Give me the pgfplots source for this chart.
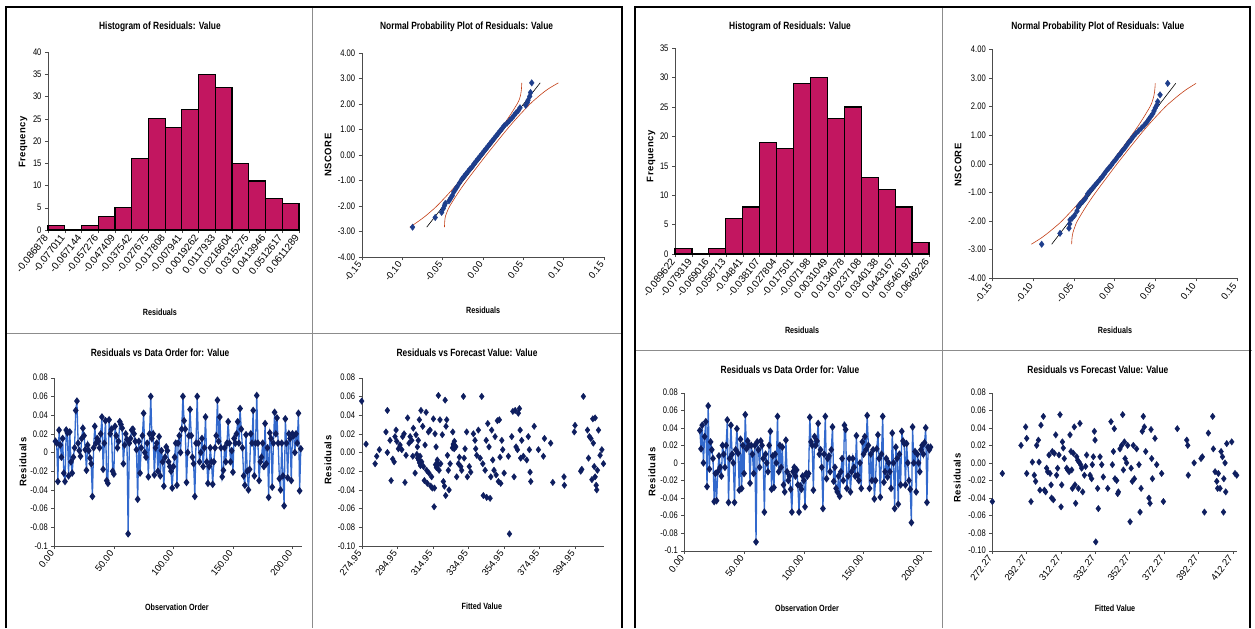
\documentclass[border=0pt]{standalone}
\usepackage{fontspec}
\setmainfont{Liberation Sans}[FakeStretch=0.8]
\newfontfamily\labfont{Liberation Sans}[LetterSpace=5]
\newfontfamily\widefont{Liberation Sans}
\usepackage{pgfplots}
\pgfplotsset{compat=1.18}
\usepackage{pgfplotstable}

\definecolor{barfill}{RGB}{194,22,96}
\definecolor{navy}{RGB}{14,30,95}
\definecolor{lineblue}{RGB}{50,105,205}
\definecolor{bandred}{RGB}{196,64,24}
\definecolor{npblue}{RGB}{30,62,140}

\pgfplotsset{
  every axis title shift=0pt,
  panel/.style={scale only axis, anchor=south west, axis lines*=left,
    tick align=outside, major tick length=3pt,
    axis line style={black!70}, every tick/.style={black!70, thin},
    y tick label style={font=\fontsize{9.5}{10}\selectfont},
    x tick label style={font=\widefont\fontsize{9.5}{10}\selectfont, rotate=52, anchor=east},
    /pgf/number format/assume math mode=true,
    title style={font=\bfseries\fontsize{10.5}{12}\selectfont, anchor=center, yshift=0pt},
    xlabel style={font=\bfseries\fontsize{9}{10}\selectfont, anchor=center},
    ylabel style={font=\labfont\bfseries\fontsize{9.5}{10}\selectfont, anchor=center},
    enlargelimits=false, clip=false},
  zf/.style={/pgf/number format/.cd, fixed, fixed zerofill, precision=2},
}

% residuals in observation order, left model (obs 1..207)
\pgfplotstableread[row sep=\\]{
r\\
0.012\\ 0.010\\ -0.031\\ 0.024\\ 0.008\\ -0.005\\ 0.015\\ -0.022\\ -0.031\\ 0.024\\
0.021\\ -0.025\\ 0.022\\ -0.010\\ -0.022\\ -0.005\\ 0.005\\ 0.045\\ 0.055\\ 0.010\\
0.002\\ -0.004\\ 0.015\\ 0.026\\ 0.018\\ 0.003\\ -0.019\\ 0.008\\ 0.002\\ -0.006\\
-0.012\\ -0.047\\ 0.005\\ 0.028\\ 0.010\\ 0.015\\ 0.012\\ 0.005\\ 0.020\\ 0.038\\
-0.018\\ 0.010\\ 0.034\\ -0.030\\ -0.033\\ 0.035\\ 0.020\\ 0.025\\ -0.020\\ -0.023\\
0.028\\ 0.018\\ 0.005\\ 0.012\\ 0.033\\ 0.030\\ 0.026\\ -0.012\\ 0.008\\ 0.020\\
0.014\\ -0.087\\ 0.010\\ 0.015\\ 0.024\\ 0.025\\ 0.020\\ 0.012\\ 0.003\\ -0.050\\
0.012\\ -0.022\\ 0.005\\ 0.018\\ 0.042\\ 0.000\\ -0.005\\ 0.010\\ -0.026\\ 0.020\\
0.060\\ 0.015\\ 0.020\\ -0.024\\ 0.005\\ 0.010\\ -0.020\\ 0.017\\ -0.025\\ 0.002\\
-0.010\\ -0.036\\ -0.005\\ 0.006\\ 0.002\\ -0.010\\ -0.015\\ -0.020\\ -0.038\\ -0.015\\
-0.005\\ 0.010\\ -0.035\\ 0.010\\ 0.018\\ 0.000\\ 0.025\\ 0.060\\ 0.034\\ 0.025\\
-0.032\\ 0.000\\ 0.018\\ 0.046\\ 0.018\\ -0.005\\ -0.012\\ -0.047\\ 0.010\\ 0.060\\
0.010\\ -0.010\\ 0.000\\ 0.015\\ -0.015\\ 0.005\\ 0.038\\ -0.010\\ -0.033\\ -0.015\\
0.005\\ -0.010\\ -0.034\\ -0.010\\ 0.005\\ 0.018\\ 0.056\\ 0.012\\ 0.038\\ 0.005\\
-0.026\\ -0.019\\ 0.005\\ -0.010\\ 0.010\\ 0.033\\ 0.010\\ -0.010\\ 0.002\\ -0.021\\
0.015\\ 0.010\\ 0.020\\ 0.033\\ 0.010\\ 0.047\\ 0.025\\ 0.005\\ -0.025\\ -0.035\\
0.019\\ -0.020\\ -0.040\\ -0.018\\ 0.020\\ 0.010\\ 0.045\\ -0.025\\ 0.010\\ 0.061\\
0.010\\ -0.030\\ -0.010\\ -0.005\\ 0.010\\ -0.015\\ 0.031\\ -0.012\\ 0.005\\ -0.048\\
0.021\\ 0.015\\ -0.037\\ 0.010\\ 0.043\\ 0.020\\ 0.037\\ 0.010\\ -0.028\\ -0.040\\
0.010\\ -0.025\\ -0.057\\ 0.036\\ 0.010\\ -0.027\\ 0.020\\ 0.015\\ -0.030\\ 0.020\\
0.018\\ 0.000\\ 0.020\\ 0.010\\ 0.042\\ -0.041\\ 0.004\\
}\orderA

% residuals in observation order, right model (obs 13..206)
\pgfplotstableread[row sep=\\]{
r\\
0.037\\ 0.016\\ 0.043\\ 0.000\\ 0.030\\ 0.047\\ -0.027\\
0.065\\ -0.007\\ 0.024\\ 0.015\\ 0.005\\ -0.044\\ -0.012\\ -0.043\\ -0.010\\ 0.008\\
-0.005\\ -0.015\\ 0.020\\ 0.010\\ -0.005\\ 0.020\\ 0.049\\ -0.045\\ 0.005\\ 0.043\\
0.010\\ 0.000\\ -0.045\\ 0.015\\ 0.039\\ 0.011\\ -0.031\\ 0.027\\ -0.029\\ 0.020\\
-0.012\\ 0.055\\ 0.016\\ 0.025\\ 0.020\\ -0.023\\ 0.020\\ 0.010\\ -0.012\\ 0.020\\
-0.090\\ 0.024\\ 0.015\\ -0.005\\ 0.025\\ 0.020\\ 0.005\\ -0.056\\ 0.010\\ 0.000\\
-0.010\\ 0.020\\ 0.036\\ -0.030\\ 0.008\\ -0.028\\ 0.010\\ 0.000\\ 0.053\\ -0.010\\
0.020\\ -0.005\\ 0.018\\ -0.025\\ -0.033\\ 0.026\\ -0.010\\ -0.020\\ -0.015\\ -0.030\\
-0.056\\ -0.010\\ -0.005\\ -0.015\\ -0.008\\ -0.025\\ -0.056\\ -0.026\\ -0.030\\ -0.015\\
-0.020\\ -0.050\\ -0.012\\ -0.015\\ -0.012\\ 0.052\\ 0.024\\ 0.020\\ -0.031\\ 0.030\\
0.020\\ 0.025\\ 0.045\\ 0.010\\ 0.015\\ -0.005\\ -0.052\\ 0.010\\ 0.053\\ -0.018\\
0.005\\ 0.008\\ -0.010\\ 0.015\\ 0.041\\ -0.021\\ -0.005\\ -0.029\\ -0.033\\ -0.015\\
-0.038\\ -0.010\\ 0.005\\ -0.020\\ 0.043\\ 0.038\\ -0.029\\ -0.015\\ 0.005\\ -0.033\\
-0.010\\ 0.005\\ -0.005\\ -0.015\\ 0.031\\ -0.014\\ -0.020\\ 0.000\\ -0.029\\ 0.024\\
0.010\\ 0.030\\ 0.015\\ 0.054\\ 0.020\\ -0.029\\ 0.010\\ -0.020\\ 0.015\\ -0.041\\
-0.020\\ 0.016\\ 0.032\\ 0.005\\ -0.039\\ 0.010\\ 0.053\\ -0.022\\ -0.010\\ 0.005\\
-0.016\\ 0.000\\ -0.010\\ -0.029\\ 0.034\\ 0.000\\ -0.052\\ 0.018\\ 0.005\\ -0.047\\
0.010\\ -0.025\\ 0.036\\ 0.025\\ 0.022\\ -0.025\\ 0.022\\ 0.000\\ -0.020\\ -0.030\\
-0.068\\ 0.041\\ 0.000\\ 0.013\\ -0.033\\ 0.010\\ 0.000\\ -0.010\\ 0.015\\ 0.020\\
0.010\\ 0.023\\ 0.040\\ -0.045\\ 0.018\\ 0.015\\ 0.018\\
}\orderB

% residuals vs fitted value, left model
\pgfplotstableread[row sep=\\]{
f r\\
274.95 0.055\\ 277.4 0.009\\ 282.5 -0.012\\ 283.4 -0.004\\ 284.9 0.003\\ 288.6 0.022\\
289.4 0.045\\ 289.4 0.000\\ 290.9 0.013\\ 291.5 -0.030\\ 292.4 -0.007\\ 293.2 -0.010\\
293.7 0.017\\ 294.3 0.024\\ 294.7 0.012\\ 295.6 0.004\\ 296.5 0.008\\ 297.5 0.003\\
298.0 0.017\\ 298.8 0.020\\ 299.3 -0.032\\ 299.9 -0.003\\ 300.8 0.037\\ 301.6 0.010\\
302.2 0.017\\ 303.1 0.013\\ 303.7 -0.004\\ 304.0 0.026\\ 305.0 -0.022\\ 305.5 0.019\\
306.0 -0.002\\ 306.3 0.006\\ 306.5 -0.006\\ 306.8 0.013\\ 307.0 -0.008\\ 307.4 0.035\\
307.5 -0.011\\ 307.8 -0.004\\ 308.0 -0.014\\ 308.3 0.045\\ 308.7 -0.010\\ 309.3 0.028\\
309.7 -0.015\\ 310.2 -0.030\\ 310.6 0.008\\ 311.2 0.043\\ 311.5 -0.019\\ 311.9 -0.033\\
312.5 0.022\\ 312.8 -0.022\\ 313.4 0.024\\ 313.8 -0.036\\ 314.3 -0.026\\ 314.7 -0.038\\
315.3 0.036\\ 315.7 -0.058\\ 315.9 -0.038\\ 316.2 0.020\\ 316.5 -0.013\\ 316.8 0.006\\
317.0 -0.016\\ 317.2 -0.015\\ 317.5 -0.008\\ 317.5 -0.014\\ 318.0 -0.012\\ 318.1 0.061\\
318.5 -0.019\\ 319.0 0.035\\ 319.4 -0.012\\ 320.3 0.019\\ 320.9 -0.031\\ 321.5 -0.036\\
321.9 0.056\\ 322.2 -0.046\\ 322.4 0.028\\ 322.8 0.035\\ 323.2 -0.003\\ 323.7 -0.019\\
324.1 -0.040\\ 324.7 -0.012\\ 326.0 0.005\\ 326.2 0.022\\ 326.5 0.009\\ 326.6 0.008\\
327.0 0.004\\ 327.1 0.012\\ 327.5 0.007\\ 327.9 0.006\\ 328.4 -0.026\\ 329.4 -0.012\\
329.9 -0.005\\ 330.7 -0.015\\ 331.2 -0.019\\ 332.2 0.060\\ 332.6 -0.006\\ 333.1 0.004\\
334.0 0.022\\ 334.4 -0.026\\ 335.5 -0.015\\ 336.3 -0.021\\ 337.8 0.020\\ 338.7 0.013\\
339.1 0.004\\ 339.7 -0.003\\ 340.6 0.024\\ 341.6 -0.006\\ 342.5 0.060\\ 343.1 -0.012\\
343.4 -0.046\\ 344.4 -0.019\\ 345.0 0.013\\ 345.3 -0.048\\ 345.9 0.031\\ 346.6 0.006\\
347.2 -0.049\\ 347.6 -0.026\\ 348.1 0.024\\ 348.7 -0.008\\ 349.4 -0.019\\ 350.0 0.017\\
350.6 -0.024\\ 351.3 0.034\\ 351.9 -0.031\\ 352.4 0.035\\ 352.8 -0.005\\ 353.2 -0.033\\
353.8 0.013\\ 354.3 0.003\\ 355.1 -0.022\\ 357.5 -0.004\\ 358.1 -0.087\\ 359.4 0.017\\
360.0 0.044\\ 360.7 -0.026\\ 361.3 0.045\\ 361.8 0.006\\ 362.6 0.003\\ 363.1 0.042\\
363.7 0.047\\ 364.1 0.024\\ 364.4 -0.006\\ 365.0 0.013\\ 365.9 -0.004\\ 367.8 -0.008\\
368.7 0.017\\ 369.3 0.003\\ 369.7 -0.021\\ 370.1 -0.031\\ 372.0 0.028\\ 374.4 0.003\\
377.2 -0.004\\ 377.8 0.015\\ 381.3 0.010\\ 382.5 -0.032\\ 388.8 -0.026\\ 389.0 -0.035\\
394.6 0.022\\ 395.0 0.029\\ 398.2 -0.020\\ 398.8 -0.018\\ 399.7 0.060\\ 402.0 0.024\\
402.6 -0.006\\ 403.1 0.017\\ 403.9 0.015\\ 404.5 -0.029\\ 405.0 0.036\\ 405.3 0.010\\
405.8 -0.015\\ 406.3 0.037\\ 406.3 -0.026\\ 406.9 -0.035\\ 407.2 -0.040\\ 407.6 -0.019\\
408.2 0.024\\ 409.1 -0.003\\ 410.1 0.003\\ 411.0 -0.012\\
}\scatA

% residuals vs fitted value, right model
\pgfplotstableread[row sep=\\]{
f r\\
272.3 -0.044\\ 278.1 -0.012\\ 289.0 0.020\\ 291.7 0.041\\ 292.3 0.028\\ 292.3 -0.012\\
294.8 -0.044\\ 295.6 0.001\\ 296.7 -0.014\\ 297.5 -0.021\\ 298.1 0.020\\ 299.1 0.026\\
299.5 0.001\\ 300.0 -0.031\\ 300.6 0.043\\ 302.0 0.053\\ 302.6 -0.031\\ 303.3 -0.033\\
303.9 -0.006\\ 304.5 -0.010\\ 305.3 0.009\\ 305.9 -0.012\\ 306.5 -0.025\\ 306.8 -0.040\\
307.2 0.013\\ 307.8 -0.042\\ 308.4 0.011\\ 309.2 0.032\\ 309.7 -0.014\\ 310.3 -0.006\\
311.1 0.009\\ 311.7 0.055\\ 312.3 -0.050\\ 312.7 -0.025\\ 313.1 0.024\\ 313.6 0.017\\
314.2 0.005\\ 315.6 -0.006\\ 316.2 -0.008\\ 317.0 -0.010\\ 317.5 0.032\\ 318.1 0.013\\
318.5 -0.008\\ 318.9 -0.029\\ 319.5 0.011\\ 320.0 0.041\\ 320.4 -0.025\\ 320.8 -0.046\\
321.4 0.007\\ 322.0 0.003\\ 322.4 -0.029\\ 322.8 0.001\\ 323.3 0.045\\ 323.7 -0.002\\
324.3 -0.006\\ 324.9 -0.033\\ 325.9 -0.014\\ 326.6 -0.004\\ 327.2 0.009\\ 329.2 -0.014\\
330.1 -0.018\\ 330.5 -0.002\\ 331.1 0.007\\ 331.7 0.036\\ 332.1 0.026\\ 332.5 -0.090\\
333.6 -0.029\\ 334.0 -0.052\\ 335.0 0.007\\ 336.0 -0.002\\ 336.9 -0.016\\ 339.5 -0.029\\
341.4 0.047\\ 342.2 -0.002\\ 342.8 0.013\\ 343.3 0.039\\ 343.7 -0.018\\ 344.7 -0.020\\
345.3 -0.035\\ 345.7 -0.033\\ 346.6 0.016\\ 347.6 0.020\\ 348.2 0.055\\ 348.6 -0.008\\
349.2 0.024\\ 349.6 0.005\\ 350.5 0.000\\ 351.1 0.020\\ 352.5 -0.067\\ 353.1 -0.006\\
353.8 -0.021\\ 354.4 0.020\\ 355.0 -0.018\\ 356.3 0.016\\ 357.7 -0.002\\ 358.3 -0.056\\
358.9 -0.029\\ 359.6 0.036\\ 360.2 0.053\\ 360.8 0.041\\ 361.6 0.013\\ 363.5 -0.040\\
364.1 -0.046\\ 364.7 0.038\\ 365.1 0.005\\ 365.5 -0.018\\ 367.0 0.028\\ 368.0 -0.002\\
370.9 -0.012\\ 371.9 -0.044\\ 380.0 0.039\\ 385.5 0.026\\ 386.1 0.020\\ 386.4 -0.014\\
389.8 0.000\\ 393.8 0.005\\ 394.6 0.007\\ 395.8 -0.056\\ 398.1 0.034\\ 400.6 0.053\\
401.0 0.016\\ 402.0 -0.010\\ 403.0 -0.021\\ 403.5 -0.029\\ 403.9 -0.012\\ 404.9 -0.029\\
405.5 0.013\\ 406.3 0.007\\ 406.9 -0.056\\ 407.1 -0.018\\ 407.8 0.000\\ 408.2 -0.033\\
408.8 0.022\\ 411.7 0.024\\ 413.6 -0.012\\ 414.6 -0.014\\
}\scatB

\begin{document}
\begin{tikzpicture}
\fill[white] (0pt,0pt) rectangle (1255pt,-628pt);

% ---------------- left model ----------------
\begin{axis}[panel, at={(48pt,-230pt)}, width=251pt, height=178pt,
  xmin=0, xmax=15, ymin=0, ymax=40, ytick={0,5,...,40},
  xtick={0,...,15},
  xticklabels={-0.086878,-0.077011,-0.067144,-0.057276,-0.047409,-0.037542,-0.027675,-0.017808,-0.007941,0.0019262,0.0117933,0.0216604,0.0315275,0.0413946,0.0512617,0.0611289},
  x tick label style={font=\widefont\fontsize{10}{10}\selectfont},
  title={Histogram of Residuals: Value}, title style={at={(axis description cs:0.446,1.14)}},
  xlabel={Residuals}, xlabel style={at={(axis description cs:0.446,-0.461)}},
  ylabel={Frequency}, ylabel style={at={(axis description cs:-0.0996,0.494)}}]
\addplot[ybar interval, fill=barfill, draw=black, line width=1.2pt] coordinates {
  (0,1) (1,0) (2,1) (3,3) (4,5) (5,16) (6,25) (7,23) (8,27) (9,35) (10,32) (11,15) (12,11) (13,7) (14,6) (15,6)};
\end{axis}

\begin{axis}[panel, at={(361.7pt,-257pt)}, width=242.3pt, height=204pt,
  xmin=-0.15, xmax=0.15, ymin=-4, ymax=4,
  xtick={-0.15,-0.1,-0.05,0,0.05,0.1,0.15}, ytick={-4,...,4},
  x tick label style={zf}, y tick label style={zf},
  title={Normal Probability Plot of Residuals: Value}, title style={at={(axis description cs:0.433,1.127)}},
  xlabel={Residuals}, xlabel style={at={(axis description cs:0.501,-0.26)}},
  ylabel={NSCORE}, ylabel style={at={(axis description cs:-0.139,0.5)}}]
\addplot[bandred, semithick, smooth] coordinates {
  (-0.0905,-2.83) (-0.0798,-2.6) (-0.0713,-2.4) (-0.0639,-2.2) (-0.0569,-2.0) (-0.0420,-1.5)
  (-0.0283,-1.0) (-0.0027,0) (0.0214,1.0) (0.0325,1.5) (0.0424,2.0) (0.0454,2.2) (0.0470,2.4) (0.0478,2.6) (0.0482,2.83)};
\addplot[bandred, semithick, smooth] coordinates {
  (-0.0475,-2.83) (-0.0472,-2.6) (-0.0463,-2.4) (-0.0439,-2.2) (-0.0409,-2.0) (-0.0310,-1.5)
  (-0.0199,-1.0) (0.0043,0) (0.0298,1.0) (0.0435,1.5) (0.0584,2.0) (0.0654,2.2) (0.0728,2.4) (0.0813,2.6) (0.0935,2.83)};
\addplot[only marks, mark=diamond*, mark size=3.2pt, color=npblue] coordinates {
  (-0.0870,-2.83) (-0.0590,-2.45) (-0.0510,-2.25) (-0.0490,-2.10) (-0.0475,-1.98) (-0.0465,-1.90)
  (-0.0420,-1.80) (-0.0400,-1.70) (-0.0380,-1.60) (-0.0360,-1.45) (-0.0340,-1.35) (-0.0320,-1.25)
  (-0.0290,-1.10) (-0.0260,-0.95) (-0.0235,-0.85) (-0.0210,-0.75) (-0.0185,-0.65) (-0.0160,-0.55)
  (-0.0130,-0.45) (-0.0110,-0.35) (-0.0085,-0.25) (-0.0060,-0.15) (-0.0035,-0.05) (-0.0010,0.05)
  (0.0015,0.15) (0.0040,0.25) (0.0065,0.35) (0.0090,0.45) (0.0115,0.55) (0.0140,0.65)
  (0.0165,0.75) (0.0190,0.85) (0.0215,0.95) (0.0240,1.05) (0.0265,1.15) (0.0300,1.25)
  (0.0330,1.35) (0.0360,1.45) (0.0385,1.55) (0.0410,1.65) (0.0440,1.75) (0.0460,1.85)
  (0.0530,1.95) (0.0550,2.05) (0.0560,2.15) (0.0580,2.30) (0.0590,2.45) (0.0605,2.83)};
\addplot[black, semithick] coordinates {(-0.0695,-2.83) (0.0710,2.83)};
\end{axis}

\begin{axis}[panel, at={(54.3pt,-546pt)}, width=247.7pt, height=168.3pt,
  xmin=0, xmax=208, ymin=-0.1, ymax=0.08,
  xtick={0,50,...,200}, ytick={-0.1,-0.08,-0.06,-0.04,-0.02,0,0.02,0.04,0.06,0.08},
  x tick label style={zf},
  y tick label style={/pgf/number format/.cd, fixed, precision=2},
  title={Residuals vs Data Order for: Value}, title style={at={(axis description cs:0.427,1.147)}},
  xlabel={Observation Order}, xlabel style={at={(axis description cs:0.495,-0.362)}},
  ylabel={Residuals}, ylabel style={at={(axis description cs:-0.126,0.499)}}]
\addplot[lineblue, line width=1.3pt, mark=diamond*, mark size=2.8pt, mark options={navy}]
  table[x expr=\coordindex+1, y=r] {\orderA};
\end{axis}

\begin{axis}[panel, at={(361.7pt,-546pt)}, width=242.3pt, height=168.3pt,
  xmin=274.95, xmax=411.3, ymin=-0.1, ymax=0.08,
  xtick={274.95,294.95,314.95,334.95,354.95,374.95,394.95},
  ytick={-0.1,-0.08,-0.06,-0.04,-0.02,0,0.02,0.04,0.06,0.08},
  x tick label style={zf}, y tick label style={zf},
  title={Residuals vs Forecast Value: Value}, title style={at={(axis description cs:0.435,1.147)}},
  xlabel={Fitted Value}, xlabel style={at={(axis description cs:0.496,-0.357)}},
  ylabel={Residuals}, ylabel style={at={(axis description cs:-0.139,0.511)}}]
\addplot[only marks, mark=diamond*, mark size=3.2pt, color=navy] table[x=f, y=r] {\scatA};
\end{axis}

% ---------------- right model ----------------
\begin{axis}[panel, at={(675pt,-254pt)}, width=254pt, height=205.7pt,
  xmin=0, xmax=15, ymin=0, ymax=35, ytick={0,5,...,35},
  xtick={0,...,15},
  xticklabels={-0.089622,-0.079319,-0.069016,-0.058713,-0.04841,-0.038107,-0.027804,-0.017501,-0.007198,0.0031049,0.0134078,0.0237108,0.0340138,0.0443167,0.0546197,0.0649226},
  x tick label style={font=\widefont\fontsize{10}{10}\selectfont},
  title={Histogram of Residuals: Value}, title style={at={(axis description cs:0.453,1.104)}},
  xlabel={Residuals}, xlabel style={at={(axis description cs:0.5,-0.369)}},
  ylabel={Frequency}, ylabel style={at={(axis description cs:-0.0945,0.476)}}]
\addplot[ybar interval, fill=barfill, draw=black, line width=1.2pt] coordinates {
  (0,1) (1,0) (2,1) (3,6) (4,8) (5,19) (6,18) (7,29) (8,30) (9,23) (10,25) (11,13) (12,11) (13,8) (14,2) (15,2)};
\end{axis}

\begin{axis}[panel, at={(992.3pt,-278.3pt)}, width=244.4pt, height=229pt,
  xmin=-0.15, xmax=0.15, ymin=-4, ymax=4,
  xtick={-0.15,-0.1,-0.05,0,0.05,0.1,0.15}, ytick={-4,...,4},
  x tick label style={zf}, y tick label style={zf},
  title={Normal Probability Plot of Residuals: Value}, title style={at={(axis description cs:0.432,1.097)}},
  xlabel={Residuals}, xlabel style={at={(axis description cs:0.502,-0.226)}},
  ylabel={NSCORE}, ylabel style={at={(axis description cs:-0.14,0.495)}}]
\addplot[bandred, semithick, smooth] coordinates {
  (-0.1021,-2.81) (-0.0904,-2.6) (-0.0810,-2.4) (-0.0726,-2.2) (-0.0647,-2.0) (-0.0481,-1.5)
  (-0.0331,-1.0) (-0.0052,0) (0.0211,1.0) (0.0331,1.5) (0.0437,2.0) (0.0466,2.2) (0.0485,2.4) (0.0495,2.6) (0.0500,2.81)};
\addplot[bandred, semithick, smooth] coordinates {
  (-0.0526,-2.81) (-0.0522,-2.6) (-0.0510,-2.4) (-0.0486,-2.2) (-0.0457,-2.0) (-0.0351,-1.5)
  (-0.0231,-1.0) (0.0032,0) (0.0311,1.0) (0.0461,1.5) (0.0627,2.0) (0.0706,2.2) (0.0790,2.4) (0.0884,2.6) (0.1001,2.81)};
\addplot[only marks, mark=diamond*, mark size=3.2pt, color=npblue] coordinates {
  (-0.0894,-2.81) (-0.0669,-2.43) (-0.0559,-2.25) (-0.0550,-2.10) (-0.0546,-1.96) (-0.0520,-1.90)
  (-0.0490,-1.80) (-0.0460,-1.65) (-0.0445,-1.50) (-0.0420,-1.40) (-0.0385,-1.30) (-0.0355,-1.20)
  (-0.0330,-1.05) (-0.0300,-0.95) (-0.0270,-0.85) (-0.0240,-0.75) (-0.0210,-0.65) (-0.0180,-0.55)
  (-0.0150,-0.45) (-0.0125,-0.35) (-0.0100,-0.25) (-0.0070,-0.15) (-0.0040,-0.05) (-0.0015,0.05)
  (0.0015,0.15) (0.0040,0.25) (0.0070,0.35) (0.0095,0.45) (0.0125,0.55) (0.0150,0.65)
  (0.0175,0.75) (0.0205,0.85) (0.0230,0.95) (0.0260,1.05) (0.0295,1.15) (0.0330,1.25)
  (0.0365,1.35) (0.0395,1.45) (0.0420,1.55) (0.0445,1.65) (0.0470,1.75) (0.0485,1.85)
  (0.0500,1.95) (0.0520,2.05) (0.0530,2.17) (0.0559,2.41) (0.0653,2.81)};
\addplot[black, semithick] coordinates {(-0.0771,-2.81) (0.0751,2.81)};
\end{axis}

\begin{axis}[panel, at={(684.3pt,-550.7pt)}, width=247.4pt, height=158pt,
  xmin=0, xmax=207, ymin=-0.1, ymax=0.08,
  xtick={0,50,...,200}, ytick={-0.1,-0.08,-0.06,-0.04,-0.02,0,0.02,0.04,0.06,0.08},
  x tick label style={zf},
  y tick label style={/pgf/number format/.cd, fixed, precision=2},
  title={Residuals vs Data Order for: Value}, title style={at={(axis description cs:0.427,1.144)}},
  xlabel={Observation Order}, xlabel style={at={(axis description cs:0.496,-0.363)}},
  ylabel={Residuals}, ylabel style={at={(axis description cs:-0.131,0.498)}}]
\addplot[lineblue, line width=1.3pt, mark=diamond*, mark size=2.8pt, mark options={navy}]
  table[x expr=\coordindex+13, y=r] {\orderB};
\end{axis}

\begin{axis}[panel, at={(992.3pt,-550.7pt)}, width=244.4pt, height=158pt,
  xmin=272.27, xmax=414.6, ymin=-0.1, ymax=0.08,
  xtick={272.27,292.27,312.27,332.27,352.27,372.27,392.27,412.27},
  ytick={-0.1,-0.08,-0.06,-0.04,-0.02,0,0.02,0.04,0.06,0.08},
  x tick label style={zf}, y tick label style={zf},
  title={Residuals vs Forecast Value: Value}, title style={at={(axis description cs:0.432,1.144)}},
  xlabel={Fitted Value}, xlabel style={at={(axis description cs:0.502,-0.363)}},
  ylabel={Residuals}, ylabel style={at={(axis description cs:-0.144,0.46)}}]
\addplot[only marks, mark=diamond*, mark size=3.2pt, color=navy] table[x=f, y=r] {\scatB};
\end{axis}

% panel frames and dividers
\draw[black!45] (312pt,-7pt) -- (312pt,-628pt);
\draw[black!45] (6pt,-333pt) -- (622pt,-333pt);
\draw[black!45] (942pt,-7pt) -- (942pt,-628pt);
\draw[black!45] (635pt,-350pt) -- (1252pt,-350pt);
\draw[line width=1.4pt] (6pt,-628pt) -- (6pt,-7pt) -- (622pt,-7pt) -- (622pt,-628pt);
\draw[line width=1.4pt] (635pt,-628pt) -- (635pt,-7pt) -- (1250pt,-7pt) -- (1250pt,-628pt);
\end{tikzpicture}
\end{document}
